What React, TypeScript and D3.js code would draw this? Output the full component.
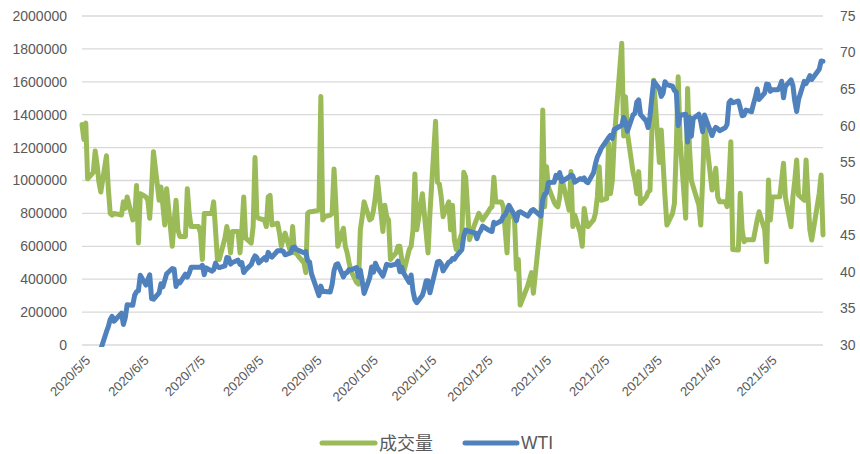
import React from 'react';
import * as d3 from 'd3';

// ---------- data ----------
const START_DATE = '2020-05-05';
const END_DATE = '2021-06-03';
const HOLIDAYS = [
  '2020-05-25', '2020-07-03', '2020-09-07', '2020-11-26', '2020-12-25',
  '2021-01-01', '2021-01-18', '2021-02-15', '2021-04-02', '2021-05-31',
];
const X_TICK_LABELS = [
  '2020/5/5', '2020/6/5', '2020/7/5', '2020/8/5', '2020/9/5', '2020/10/5', '2020/11/5',
  '2020/12/5', '2021/1/5', '2021/2/5', '2021/3/5', '2021/4/5', '2021/5/5',
];
const LEFT_TICKS = [0, 200000, 400000, 600000, 800000, 1000000, 1200000, 1400000, 1600000, 1800000, 2000000];
const RIGHT_TICKS = [30, 35, 40, 45, 50, 55, 60, 65, 70, 75];
const SERIES_NAMES = ['成交量', 'WTI'];

// 成交量 (one value per trading day, one row per week)
const VOLUME = [
  1340000, 1250000, 1350000, 1010000,
  1050000, 1180000, 1100000, 990000, 930000,
  1150000, 950000, 800000, 790000, 800000,
  790000, 870000, 830000, 900000,
  760000, 770000, 970000, 620000, 920000,
  900000, 880000, 770000, 950000, 1175000,
  880000, 960000, 850000, 730000, 950000,
  600000, 750000, 880000, 700000, 660000,
  660000, 950000, 800000, 720000,
  720000, 680000, 520000, 800000, 800000,
  800000, 870000, 700000, 520000, 520000,
  650000, 720000, 660000, 560000, 690000,
  690000, 560000, 700000, 900000, 650000,
  620000, 720000, 1140000, 780000, 770000,
  760000, 720000, 900000, 910000, 730000,
  740000, 680000, 600000, 650000, 680000,
  560000, 720000, 560000, 560000, 540000,
  500000, 440000, 800000, 810000, 810000,
  820000, 1510000, 760000, 780000,
  790000, 800000, 1070000, 850000, 600000,
  710000, 600000, 560000, 500000, 450000,
  380000, 370000, 700000, 780000, 870000,
  760000, 770000, 820000, 900000, 1020000,
  690000, 850000, 780000, 760000, 520000,
  560000, 600000, 600000, 520000, 440000,
  580000, 600000, 700000, 1040000, 700000,
  920000, 800000, 680000, 560000, 800000,
  1360000, 990000, 980000, 900000, 780000,
  870000, 700000, 850000, 640000, 580000,
  680000, 1050000, 1020000, 640000,
  740000, 770000, 800000, 780000, 760000,
  810000, 830000, 840000, 1020000, 870000,
  870000, 840000, 700000, 560000, 840000,
  760000, 460000, 520000, 243000,
  360000, 400000, 440000, 314000,
  760000, 1429000, 840000, 1084000, 960000,
  870000, 850000, 840000, 900000, 1020000,
  820000, 1054000, 720000, 790000,
  680000, 600000, 830000, 760000, 720000,
  760000, 800000, 900000, 1084000, 880000,
  890000, 1226000, 920000, 1000000, 1250000,
  1834000, 1270000, 1509000, 1290000,
  1050000, 1000000, 920000, 1054000, 860000,
  900000, 930000, 940000, 1300000, 1610000,
  1110000, 1307000, 1100000, 900000, 729000,
  800000, 861000, 1200000, 1631000, 1250000,
  770000, 1560000, 1200000, 1000000, 962000,
  850000, 729000, 1000000, 1348000,
  942000, 1000000, 1074000, 900000, 871000,
  871000, 841000, 1000000, 1236000, 580000,
  577000, 922000, 700000, 628000, 640000,
  640000, 640000, 700000, 760000, 810000,
  700000, 506000, 1003000, 760000, 900000,
  901000, 901000, 1000000, 1105000, 900000,
  719000, 900000, 1000000, 1125000, 912000,
  880000, 1125000, 900000, 700000, 638000,
  922000, 1033000, 669000,
];

// WTI (one value per trading day, one row per week)
const WTI = [
  24.56, 23.99, 23.55, 24.74,
  24.14, 25.78, 25.29, 27.56, 29.43,
  31.82, 32.5, 33.49, 33.92, 33.25,
  34.35, 32.81, 33.71, 35.49,
  35.44, 36.81, 37.29, 37.41, 39.55,
  38.19, 38.94, 39.6, 36.34, 36.26,
  37.12, 38.38, 37.96, 38.84, 39.75,
  40.46, 40.37, 38.01, 38.72, 38.49,
  39.7, 39.27, 39.82, 40.65,
  40.63, 40.62, 40.9, 39.62, 40.55,
  40.1, 40.29, 41.2, 40.75, 40.59,
  40.81, 41.96, 41.9, 41.07, 41.29,
  41.6, 41.04, 41.27, 39.92, 40.27,
  41.01, 41.7, 42.19, 41.95, 41.22,
  41.94, 41.61, 42.67, 42.24, 42.01,
  42.89, 42.89, 42.93, 42.82, 42.34,
  42.62, 43.35, 43.39, 43.04, 42.97,
  42.61, 42.76, 41.51, 41.37, 39.77,
  36.76, 38.05, 37.3, 37.33,
  37.26, 38.28, 40.16, 40.97, 41.11,
  39.31, 39.8, 39.93, 40.31, 40.25,
  40.6, 39.29, 40.22, 38.72, 37.05,
  39.22, 40.67, 39.95, 41.19, 40.6,
  39.43, 40.2, 41.04, 40.96, 40.88,
  41.06, 41.46, 40.03, 40.64, 39.85,
  38.56, 39.57, 37.39, 36.17, 35.79,
  36.81, 37.66, 38.79, 38.79, 37.14,
  40.29, 41.36, 41.45, 41.12, 40.13,
  41.34, 41.43, 41.82, 41.74, 42.15,
  43.06, 44.91, 45.71, 45.53,
  45.34, 44.55, 45.28, 45.64, 46.26,
  45.76, 45.6, 45.52, 46.78, 46.57,
  46.99, 47.62, 47.82, 48.36, 49.1,
  47.74, 47.02, 48.12, 48.23,
  47.62, 48.0, 48.4, 48.52,
  47.62, 49.93, 50.63, 50.83, 52.24,
  52.25, 53.21, 52.91, 53.57, 52.36,
  52.98, 53.24, 53.13, 52.27,
  52.77, 52.61, 52.85, 52.34, 52.2,
  53.55, 54.76, 55.69, 56.23, 56.85,
  57.97, 58.36, 58.68, 58.24, 59.47,
  60.05, 61.14, 60.52, 59.24,
  61.49, 61.67, 63.22, 63.53, 61.5,
  60.64, 59.75, 61.28, 63.83, 66.09,
  65.05, 64.01, 64.44, 66.02, 65.61,
  65.39, 64.8, 64.6, 60.0, 61.42,
  61.55, 57.76, 61.18, 58.56, 60.97,
  61.56, 60.55, 59.16, 61.45,
  58.65, 59.33, 59.77, 59.6, 59.32,
  59.7, 60.18, 63.15, 63.46, 63.13,
  63.38, 62.44, 61.35, 61.43, 62.14,
  61.91, 62.94, 63.86, 65.01, 63.58,
  64.49, 65.69, 65.63, 64.71, 64.9,
  64.92, 65.28, 66.08, 63.82, 65.37,
  66.27, 65.49, 63.36, 61.94, 63.58,
  66.05, 65.76, 66.21, 66.85, 66.32,
  67.72, 68.83, 68.81,
];

// ---------- layout ----------
const W = 860;
const H = 454;
const PLOT = { left: 82, right: 823, top: 16, bottom: 345 };
const GREEN = '#9BBB59';
const BLUE = '#4F81BD';
const GRID = '#D9D9D9';
const TEXT = '#595959';
const FONT = '"Liberation Sans", Arial, sans-serif';

const parseIso = d3.timeParse('%Y-%m-%d');
const parseLabel = d3.timeParse('%Y/%m/%d');
const fmtIso = d3.timeFormat('%Y-%m-%d');

function tradingDays(): Date[] {
  const hol = new Set(HOLIDAYS);
  const start = parseIso(START_DATE) as Date;
  const end = d3.timeDay.offset(parseIso(END_DATE) as Date, 1);
  return d3.timeDay
    .range(start, end)
    .filter((d) => d.getDay() !== 0 && d.getDay() !== 6 && !hol.has(fmtIso(d)));
}

export default function App() {
  const dates = tradingDays();
  const n = Math.min(dates.length, VOLUME.length, WTI.length);

  const x = d3
    .scaleTime()
    .domain([parseIso(START_DATE) as Date, parseIso(END_DATE) as Date])
    .range([PLOT.left, PLOT.right]);
  const yL = d3.scaleLinear().domain([0, 2000000]).range([PLOT.bottom, PLOT.top]);
  const yR = d3.scaleLinear().domain([30, 75]).range([PLOT.bottom, PLOT.top]);

  const volLine = d3
    .line<number>()
    .x((_, i) => x(dates[i]))
    .y((v) => yL(v));
  const wtiLine = d3
    .line<number>()
    .x((_, i) => x(dates[i]))
    .y((v) => yR(v));

  const legendY = 442;

  return (
    <svg
      width={W}
      height={H}
      style={{ position: 'absolute', left: 0, top: 0, background: '#fff' }}
      fontFamily={FONT}
    >
      <defs>
        <clipPath id="plotClip">
          <rect x={0} y={0} width={W} height={PLOT.bottom + 2} />
        </clipPath>
      </defs>
      <rect x={0} y={0} width={W} height={H} fill="#fff" />

      {/* gridlines */}
      {LEFT_TICKS.map((t) => (
        <line
          key={t}
          x1={PLOT.left}
          x2={PLOT.right}
          y1={yL(t)}
          y2={yL(t)}
          stroke={GRID}
          strokeWidth={1.3}
        />
      ))}

      {/* left axis labels */}
      {LEFT_TICKS.map((t) => (
        <text
          key={'l' + t}
          x={67}
          y={yL(t)}
          dy="0.35em"
          textAnchor="end"
          fontSize={14}
          fill={TEXT}
        >
          {t}
        </text>
      ))}

      {/* right axis labels */}
      {RIGHT_TICKS.map((t) => (
        <text key={'r' + t} x={840} y={yR(t)} dy="0.35em" textAnchor="start" fontSize={14} fill={TEXT}>
          {t}
        </text>
      ))}

      {/* x axis labels */}
      {X_TICK_LABELS.map((lab) => {
        const px = x(parseLabel(lab) as Date);
        return (
          <text
            key={lab}
            transform={`translate(${px + 6},${358}) rotate(-45)`}
            textAnchor="end"
            dy="0.35em"
            fontSize={13}
            fill={TEXT}
          >
            {lab}
          </text>
        );
      })}

      {/* series */}
      <g clipPath="url(#plotClip)">
        <path
          d={volLine(VOLUME.slice(0, n)) || ''}
          fill="none"
          stroke={GREEN}
          strokeWidth={5}
          strokeLinejoin="round"
          strokeLinecap="round"
        />
        <path
          d={wtiLine(WTI.slice(0, n)) || ''}
          fill="none"
          stroke={BLUE}
          strokeWidth={5}
          strokeLinejoin="round"
          strokeLinecap="round"
        />
      </g>

      {/* legend */}
      <line x1={322} x2={375} y1={legendY + 1} y2={legendY + 1} stroke={GREEN} strokeWidth={5} strokeLinecap="round" />
      <text
        x={379}
        y={legendY}
        dominantBaseline="central"
        fontSize={18}
        fill={TEXT}
        fontFamily={'"Noto Sans CJK SC", "Noto Sans CJK JP", sans-serif'}
      >
        {SERIES_NAMES[0]}
      </text>
      <line x1={465} x2={517} y1={legendY + 1} y2={legendY + 1} stroke={BLUE} strokeWidth={5} strokeLinecap="round" />
      <text x={521} y={legendY + 1} dominantBaseline="central" fontSize={17.5} fill={TEXT}>
        {SERIES_NAMES[1]}
      </text>
    </svg>
  );
}
